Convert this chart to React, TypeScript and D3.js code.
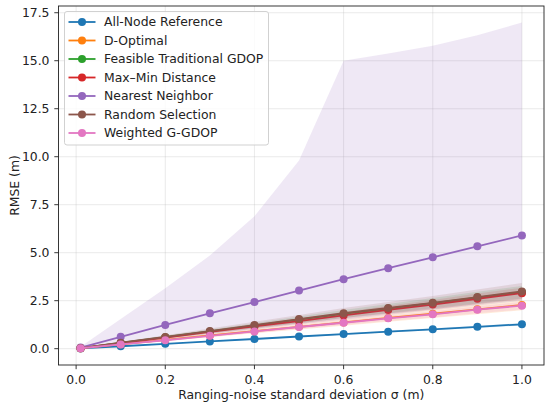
import React from 'react'
import * as d3 from "d3";

const sigma = [0.01, 0.1, 0.2, 0.3, 0.4, 0.5, 0.6, 0.7, 0.8, 0.9, 1.0]

const names = ["All-Node Reference", "D-Optimal", "Feasible Traditional GDOP", "Max–Min Distance", "Nearest Neighbor", "Random Selection", "Weighted G-GDOP"]
const colors = ["#1f77b4", "#ff7f0e", "#2ca02c", "#d62728", "#9467bd", "#8c564b", "#e377c2"]

const allNode = [0.013, 0.127, 0.253, 0.38, 0.505, 0.635, 0.76, 0.885, 1.01, 1.14, 1.27]
const allNodeLo = [0.012, 0.12, 0.24, 0.36, 0.48, 0.6, 0.72, 0.84, 0.96, 1.08, 1.2]
const allNodeHi = [0.014, 0.134, 0.266, 0.4, 0.53, 0.67, 0.8, 0.93, 1.06, 1.2, 1.34]

const dOpt = [0.024, 0.23, 0.46, 0.69, 0.91, 1.14, 1.37, 1.6, 1.82, 2.05, 2.28]
const dOptLo = [0.02, 0.2, 0.4, 0.6, 0.8, 1.0, 1.2, 1.4, 1.6, 1.8, 2.0]
const dOptHi = [0.028, 0.27, 0.53, 0.79, 1.05, 1.3, 1.56, 1.82, 2.08, 2.34, 2.6]

const feasible = [0.03, 0.3, 0.6, 0.9, 1.2, 1.51, 1.81, 2.09, 2.37, 2.66, 2.94]
const feasibleLo = [0.027, 0.27, 0.53, 0.8, 1.06, 1.33, 1.6, 1.85, 2.1, 2.36, 2.62]
const feasibleHi = [0.034, 0.33, 0.67, 1.0, 1.33, 1.68, 2.02, 2.33, 2.64, 2.96, 3.27]

const maxMin = [0.029, 0.29, 0.58, 0.87, 1.16, 1.44, 1.73, 2.02, 2.3, 2.6, 2.89]
const maxMinLo = [0.026, 0.26, 0.52, 0.78, 1.04, 1.29, 1.55, 1.81, 2.06, 2.33, 2.6]
const maxMinHi = [0.032, 0.32, 0.64, 0.96, 1.28, 1.59, 1.91, 2.23, 2.54, 2.87, 3.18]

const nearest = [0.06, 0.62, 1.24, 1.84, 2.43, 3.03, 3.62, 4.19, 4.76, 5.33, 5.9]
const nearestLo = [0.02, 0.25, 0.5, 0.75, 1.0, 1.27, 1.5, 1.75, 2.0, 2.25, 2.5]
const nearestHi = [0.1, 1.55, 3.15, 4.85, 6.9, 9.8, 15.0, 15.38, 15.78, 16.33, 16.99]

const random = [0.03, 0.31, 0.61, 0.92, 1.23, 1.54, 1.85, 2.12, 2.39, 2.69, 2.98]
const randomLo = [0.026, 0.27, 0.53, 0.8, 1.06, 1.33, 1.6, 1.83, 2.06, 2.32, 2.56]
const randomHi = [0.035, 0.35, 0.7, 1.05, 1.4, 1.76, 2.12, 2.43, 2.74, 3.08, 3.42]

const weighted = [0.022, 0.22, 0.44, 0.67, 0.9, 1.13, 1.35, 1.58, 1.79, 2.03, 2.24]
const weightedLo = [0.02, 0.2, 0.4, 0.61, 0.82, 1.03, 1.23, 1.44, 1.63, 1.85, 2.04]
const weightedHi = [0.024, 0.24, 0.48, 0.73, 0.98, 1.23, 1.47, 1.72, 1.95, 2.21, 2.44]

const means = [allNode, dOpt, feasible, maxMin, nearest, random, weighted]
const lows = [allNodeLo, dOptLo, feasibleLo, maxMinLo, nearestLo, randomLo, weightedLo]
const highs = [allNodeHi, dOptHi, feasibleHi, maxMinHi, nearestHi, randomHi, weightedHi]

const xTicks = [0.0, 0.2, 0.4, 0.6, 0.8, 1.0]
const yTicks = [0.0, 2.5, 5.0, 7.5, 10.0, 12.5, 15.0, 17.5]

function drawChart(svgRef: React.RefObject<SVGSVGElement>) {
  const width = 550
  const height = 408
  const margin = {top: 6, right: 6, bottom: 43, left: 58.5}
  const font = "DejaVu Sans, sans-serif"
  const fs = 12.4
  const ink = "#222"

  const svg = d3.select(svgRef.current)
      .attr("width", width)
      .attr("height", height)
      .style("position", "absolute")
      .style("left", 0)
      .style("top", 0)
      .attr("font-family", font)
  svg.selectAll("*").remove()

  const x = d3.scaleLinear()
      .domain([-0.0395, 1.0495])
      .range([margin.left, width - margin.right])

  const y = d3.scaleLinear()
      .domain([-0.85, 17.85])
      .range([height - margin.bottom, margin.top])

  svg.append("rect")
      .attr("width", width).attr("height", height).attr("fill", "white")

  // grid
  const grid = svg.append("g").attr("stroke", "#b0b0b0").attr("stroke-opacity", 0.3).attr("stroke-width", 0.9)
  grid.selectAll("line.gx").data(xTicks).join("line")
      .attr("x1", d => x(d)).attr("x2", d => x(d))
      .attr("y1", margin.top).attr("y2", height - margin.bottom)
  grid.selectAll("line.gy").data(yTicks).join("line")
      .attr("x1", margin.left).attr("x2", width - margin.right)
      .attr("y1", d => y(d)).attr("y2", d => y(d))

  const area = d3.area<number>()
      .x((_, i) => x(sigma[i]))

  const line = d3.line<number>()
      .x((_, i) => x(sigma[i]))
      .y(d => y(d))

  const plot = svg.append("g")
  means.forEach((m, k) => {
    plot.append("path")
        .datum(highs[k])
        .attr("fill", colors[k])
        .attr("fill-opacity", 0.15)
        .attr("d", area.y0((_, i) => y(lows[k][i])).y1(d => y(d)))
    plot.append("path")
        .datum(m)
        .attr("fill", "none")
        .attr("stroke", colors[k])
        .attr("stroke-width", 1.8)
        .attr("d", line)
    plot.append("g")
        .selectAll("circle")
        .data(m)
        .join("circle")
        .attr("cx", (_, i) => x(sigma[i]))
        .attr("cy", d => y(d))
        .attr("r", 4)
        .attr("fill", colors[k])
  })

  // spines
  svg.append("rect")
      .attr("x", margin.left).attr("y", margin.top)
      .attr("width", width - margin.left - margin.right)
      .attr("height", height - margin.top - margin.bottom)
      .attr("fill", "none").attr("stroke", ink).attr("stroke-width", 0.9)

  const xAxis = svg.append("g")
  xAxis.selectAll("line").data(xTicks).join("line")
      .attr("x1", d => x(d)).attr("x2", d => x(d))
      .attr("y1", height - margin.bottom).attr("y2", height - margin.bottom + 4.2)
      .attr("stroke", ink).attr("stroke-width", 0.9)
  xAxis.selectAll("text").data(xTicks).join("text")
      .attr("x", d => x(d)).attr("y", height - margin.bottom + 19)
      .attr("text-anchor", "middle").attr("font-size", fs).attr("fill", ink)
      .text(d => d3.format(".1f")(d))

  const yAxis = svg.append("g")
  yAxis.selectAll("line").data(yTicks).join("line")
      .attr("x1", margin.left - 4.2).attr("x2", margin.left)
      .attr("y1", d => y(d)).attr("y2", d => y(d))
      .attr("stroke", ink).attr("stroke-width", 0.9)
  yAxis.selectAll("text").data(yTicks).join("text")
      .attr("x", margin.left - 9).attr("y", d => y(d)).attr("dy", "0.35em")
      .attr("text-anchor", "end").attr("font-size", fs).attr("fill", ink)
      .text(d => d3.format(".1f")(d))

  svg.append("text")
      .attr("x", (margin.left + width - margin.right) / 2).attr("y", 399)
      .attr("text-anchor", "middle").attr("font-size", fs).attr("fill", ink)
      .text("Ranging-noise standard deviation σ (m)")

  svg.append("text")
      .attr("transform", `translate(18.5,${(margin.top + height - margin.bottom) / 2}) rotate(-90)`)
      .attr("text-anchor", "middle").attr("font-size", fs).attr("fill", ink)
      .text("RMSE (m)")

  // legend
  const legend = svg.append("g").attr("transform", "translate(64.5,11.5)")
  legend.append("rect")
      .attr("width", 204).attr("height", 133.5).attr("rx", 2.5)
      .attr("fill", "white").attr("fill-opacity", 0.8)
      .attr("stroke", "#cccccc").attr("stroke-width", 0.9)
  const item = legend.selectAll("g").data(names).join("g")
      .attr("transform", (_, i) => `translate(0,${10.5 + i * 18.5})`)
  item.append("line")
      .attr("x1", 4).attr("x2", 31)
      .attr("stroke", (_, i) => colors[i]).attr("stroke-width", 1.8)
  item.append("circle")
      .attr("cx", 17.5).attr("r", 4).attr("fill", (_, i) => colors[i])
  item.append("text")
      .attr("x", 39.5).attr("dy", "0.35em")
      .attr("font-size", fs).attr("fill", ink)
      .text(d => d)

  return svg.node()
}

const App: React.FunctionComponent = () => {
  const svg = React.useRef<SVGSVGElement>(null)

  React.useEffect(() => {
    drawChart(svg)
  }, [svg])

  return (
    <div id="chart">
      <svg ref={svg} />
    </div>
  )
}

export default App
